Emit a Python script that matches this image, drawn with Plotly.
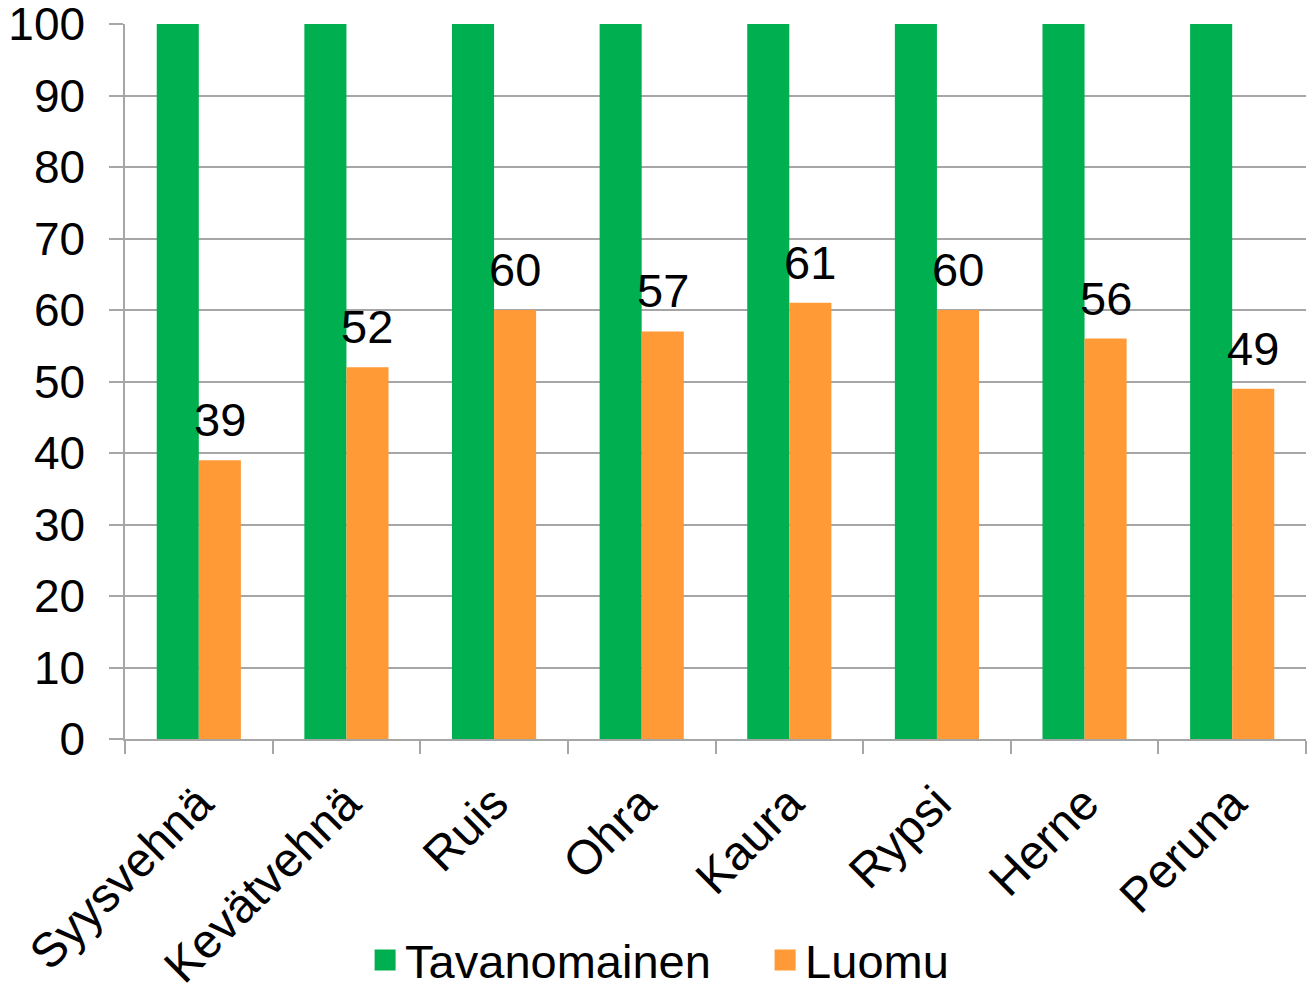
import plotly.graph_objects as go

categories = ["Syysvehnä", "Kevätvehnä", "Ruis", "Ohra", "Kaura", "Rypsi", "Herne", "Peruna"]
tavanomainen = [100, 100, 100, 100, 100, 100, 100, 100]
luomu = [39, 52, 60, 57, 61, 60, 56, 49]
y_ticks = [0, 10, 20, 30, 40, 50, 60, 70, 80, 90, 100]

GREEN = "#00B050"
ORANGE = "#FF9A36"
FONT = "Liberation Sans, Arial, sans-serif"

fig = go.Figure()
fig.add_trace(go.Bar(x=categories, y=tavanomainen, name="Tavanomainen",
                     marker=dict(color=GREEN, line=dict(width=0)), showlegend=False))
fig.add_trace(go.Bar(x=categories, y=luomu, name="Luomu",
                     marker=dict(color=ORANGE, line=dict(width=0)), showlegend=False))
# legend entries with square markers
fig.add_trace(go.Scatter(x=[None], y=[None], mode="markers", name="Tavanomainen",
                         marker=dict(symbol="square", size=24, color=GREEN,
                                     line=dict(color=GREEN, width=8))))
fig.add_trace(go.Scatter(x=[None], y=[None], mode="markers", name="Luomu",
                         marker=dict(symbol="square", size=24, color=ORANGE,
                                     line=dict(color=ORANGE, width=8))))

# value labels above the Luomu bars
for cat, val in zip(categories, luomu):
    fig.add_annotation(x=cat, y=val, xref="x", yref="y", text=str(val),
                       showarrow=False, xanchor="center", yanchor="bottom",
                       xshift=21, yshift=12,
                       font=dict(size=47, family=FONT, color="black"))

fig.update_layout(
    width=1316, height=998,
    margin=dict(l=125, r=10, t=24, b=259),
    paper_bgcolor="white", plot_bgcolor="white",
    barmode="group", bargap=0.43, bargroupgap=0,
    font=dict(family=FONT, color="black", size=40),
    legend=dict(orientation="h", xref="paper", x=0.542, xanchor="center",
                yref="container", y=0.0, yanchor="bottom",
                font=dict(size=47, family=FONT, color="black"),
                itemsizing="trace", tracegroupgap=0,
                entrywidth=355, entrywidthmode="pixels"),
)
fig.update_yaxes(range=[0, 100], tickvals=y_ticks, ticktext=[str(v) for v in y_ticks],
                 automargin=False, ticklabeloverflow="allow",
                 showgrid=True, gridcolor="#A6A6A6", gridwidth=1.5,
                 showline=True, linecolor="#A6A6A6", linewidth=1.5,
                 ticks="outside", ticklen=14, tickcolor="#A6A6A6", tickwidth=1.5,
                 ticklabelstandoff=15,
                 tickfont=dict(size=46, family=FONT, color="black"), zeroline=False)
fig.update_xaxes(automargin=False,
                 showline=True, linecolor="#A6A6A6", linewidth=1.5,
                 ticks="outside", tickson="boundaries", ticklen=13,
                 tickcolor="#A6A6A6", tickwidth=1.5, ticklabelstandoff=15,
                 tickangle=-45, tickfont=dict(size=48, family=FONT, color="black"),
                 showgrid=False)

fig.write_html("out.html",
               config={"displayModeBar": False},
               post_script="document.body.style.margin='0px';document.body.style.overflow='hidden';")
